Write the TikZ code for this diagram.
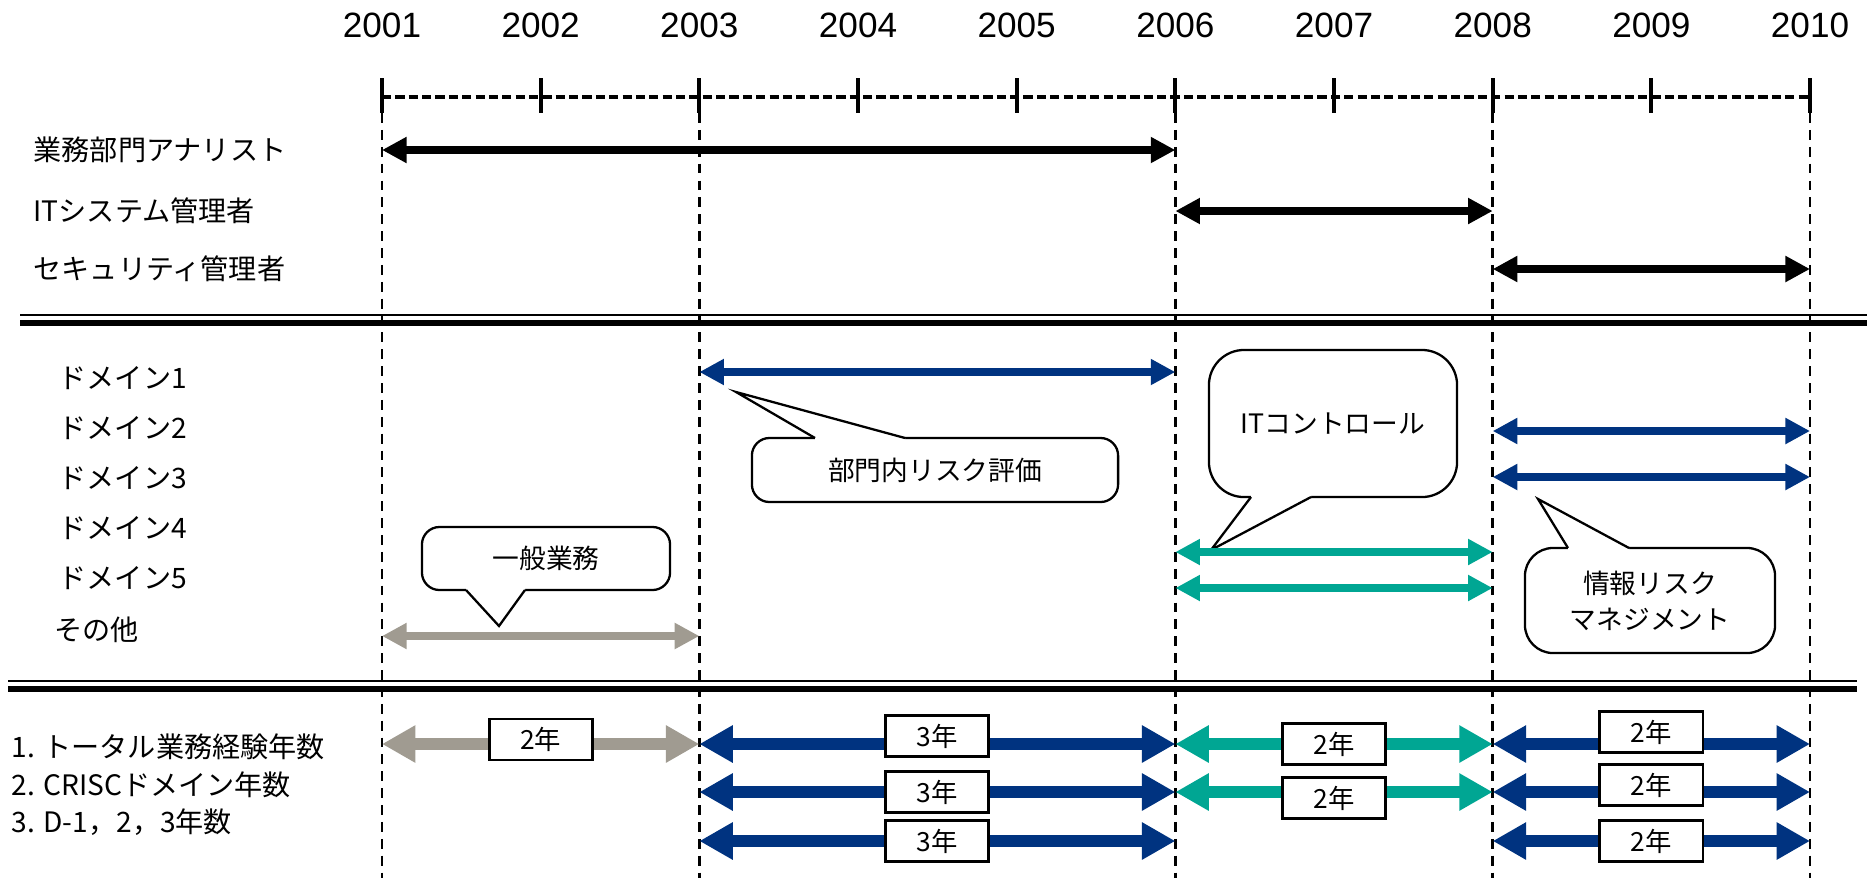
\documentclass[tikz,border=0pt]{standalone}
\usepackage{fontspec}
\setmainfont{Liberation Sans}
\newfontfamily\jp{Noto Sans CJK JP}
\usepackage{tikz}
\usetikzlibrary{arrows.meta,calc,positioning}
\definecolor{rknavy}{RGB}{0,51,128}
\definecolor{rkteal}{RGB}{0,166,147}
\definecolor{rkgray}{RGB}{160,155,145}
\tikzstyle{yearlabel} = [inner sep=0, font=\fontsize{10}{12}\selectfont]
\tikzstyle{rowlabel} = [anchor=west, inner sep=0, font=\jp\fontsize{8}{10}\selectfont]
\tikzstyle{yeartick} = [line width=1.1pt]
\tikzstyle{timeline} = [line width=1.4pt, dash pattern=on 2.6pt off 1.2pt]
\tikzstyle{guide} = [line width=0.7pt, dash pattern=on 2.8pt off 2pt]
\tikzstyle{rolespan} = [line width=2.2pt, {Triangle[length=7pt,width=7pt]}-{Triangle[length=7pt,width=7pt]}]
\tikzstyle{bigspan} = [line width=3.5pt, {Triangle[length=9.5pt,width=10pt]}-{Triangle[length=9.5pt,width=10pt]}]
\tikzstyle{yearbox} = [draw=black, fill=white, text=black, line width=0.8pt, minimum width=1.03cm, minimum height=0.41cm, inner sep=0, font=\jp\fontsize{7.5}{9}\selectfont]
\tikzstyle{callbox} = [draw, fill=white, line width=0.65pt, align=center, font=\jp\fontsize{7.6}{10.2}\selectfont]
\tikzstyle{tail} = [line width=0.65pt]

\begin{document}
\begin{tikzpicture}[x=0.01cm, y=-0.01cm]
\useasboundingbox (0,0) rectangle (1867,878);

\foreach \yr [count=\i from 0] in {2001,...,2010} {
  \coordinate (t\yr) at ({382+158.67*\i},97);
  \node[yearlabel] (l\yr) at ({382+158.67*\i},25) {\yr};
}
\draw[timeline] (t2001) -- (t2010);
\foreach \yr in {2001,...,2010} \draw[yeartick] (t\yr) ++(0,-19) -- ++(0,35);
\foreach \yr in {2001,2003,2006,2008,2010} \draw[guide] (t\yr) ++(0,16) -- ++(0,765);

\draw[line width=0.5pt] (20,315) -- (1867,315);
\draw[line width=1.7pt] (20,323) -- (1867,323);
\draw[line width=0.5pt] (8,681) -- (1857,681);
\draw[line width=1.7pt] (8,689) -- (1857,689);

\node[rowlabel] (ana) at (33,150) {業務部門アナリスト};
\node[rowlabel] (itadm) at (33,211) {ITシステム管理者};
\node[rowlabel] (secadm) at (33,269) {セキュリティ管理者};
\draw[rolespan] (t2001 |- ana) -- (t2006 |- ana);
\draw[rolespan] (t2006 |- itadm) -- (t2008 |- itadm);
\draw[rolespan] (t2008 |- secadm) -- (t2010 |- secadm);

\node[rowlabel] (dom1) at (58,378) {ドメイン1};
\node[rowlabel] (dom2) at (58,428) {ドメイン2};
\node[rowlabel] (dom3) at (58,478) {ドメイン3};
\node[rowlabel] (dom4) at (58,528) {ドメイン4};
\node[rowlabel] (dom5) at (58,578) {ドメイン5};
\node[rowlabel] (other) at (54,630) {その他};

\node[callbox, minimum width=3.66cm, minimum height=0.64cm, rounded corners=5pt] (riskbox) at (935,470) {部門内リスク評価};
\coordinate (risktip) at (736,392);
\fill[white] (815,438) -- (risktip) -- (905,438) -- (905,442) -- (815,442) -- cycle;
\draw[tail] (815,438) -- (risktip) -- (905,438);

\node[callbox, minimum width=2.48cm, minimum height=1.47cm, rounded corners=10pt] (itbox) at (1333,423.5) {ITコントロール};
\coordinate (ittip) at (1211,550);
\fill[white] (1251,497) -- (ittip) -- (1311,497) -- (1311,493) -- (1251,493) -- cycle;
\draw[tail] (1251,497) -- (ittip) -- (1311,497);

\node[callbox, minimum width=2.5cm, minimum height=1.05cm, rounded corners=8pt] (isrmbox) at (1650,600.5) {情報リスク\\マネジメント};
\coordinate (isrmtip) at (1538,499);
\fill[white] (1568,548) -- (isrmtip) -- (1629,548) -- (1629,552) -- (1568,552) -- cycle;
\draw[tail] (1568,548) -- (isrmtip) -- (1629,548);

\node[callbox, minimum width=2.48cm, minimum height=0.63cm, rounded corners=5pt] (genbox) at (546,558.5) {一般業務};
\coordinate (gentip) at (499,626);
\fill[white] (466,590) -- (gentip) -- (525,590) -- (525,586) -- (466,586) -- cycle;
\draw[tail] (466,590) -- (gentip) -- (525,590);

\coordinate (a1) at (0,372);
\coordinate (a2) at (0,431);
\coordinate (a3) at (0,477);
\coordinate (a4) at (0,552);
\coordinate (a5) at (0,588);
\coordinate (a6) at (0,636);
\draw[rolespan, draw=rknavy] (t2003 |- a1) -- (t2006 |- a1);
\draw[rolespan, draw=rknavy] (t2008 |- a2) -- (t2010 |- a2);
\draw[rolespan, draw=rknavy] (t2008 |- a3) -- (t2010 |- a3);
\draw[rolespan, draw=rkteal] (t2006 |- a4) -- (t2008 |- a4);
\draw[rolespan, draw=rkteal] (t2006 |- a5) -- (t2008 |- a5);
\draw[rolespan, draw=rkgray] (t2001 |- a6) -- (t2003 |- a6);

\node[rowlabel] (exp1) at (11,747) {1. トータル業務経験年数};
\node[rowlabel] (exp2) at (11,785) {2. CRISCドメイン年数};
\node[rowlabel] (exp3) at (11,822) {3. D-1，2，3年数};

\coordinate (b1) at (0,744);
\coordinate (b2) at (0,792);
\coordinate (b3) at (0,841);
\draw[bigspan, draw=rkgray] (t2001 |- b1) -- node[yearbox, yshift=1.3pt] {2年} (t2003 |- b1);
\draw[bigspan, draw=rknavy] (t2003 |- b1) -- node[yearbox, yshift=2.3pt] {3年} (t2006 |- b1);
\draw[bigspan, draw=rknavy] (t2003 |- b2) -- node[yearbox] {3年} (t2006 |- b2);
\draw[bigspan, draw=rknavy] (t2003 |- b3) -- node[yearbox] {3年} (t2006 |- b3);
\draw[bigspan, draw=rkteal] (t2006 |- b1) -- node[yearbox] {2年} (t2008 |- b1);
\draw[bigspan, draw=rkteal] (t2006 |- b2) -- node[yearbox, yshift=-1.7pt] {2年} (t2008 |- b2);
\draw[bigspan, draw=rknavy] (t2008 |- b1) -- node[yearbox, yshift=3.4pt] {2年} (t2010 |- b1);
\draw[bigspan, draw=rknavy] (t2008 |- b2) -- node[yearbox, yshift=2pt] {2年} (t2010 |- b2);
\draw[bigspan, draw=rknavy] (t2008 |- b3) -- node[yearbox] {2年} (t2010 |- b3);
\end{tikzpicture}
\end{document}
